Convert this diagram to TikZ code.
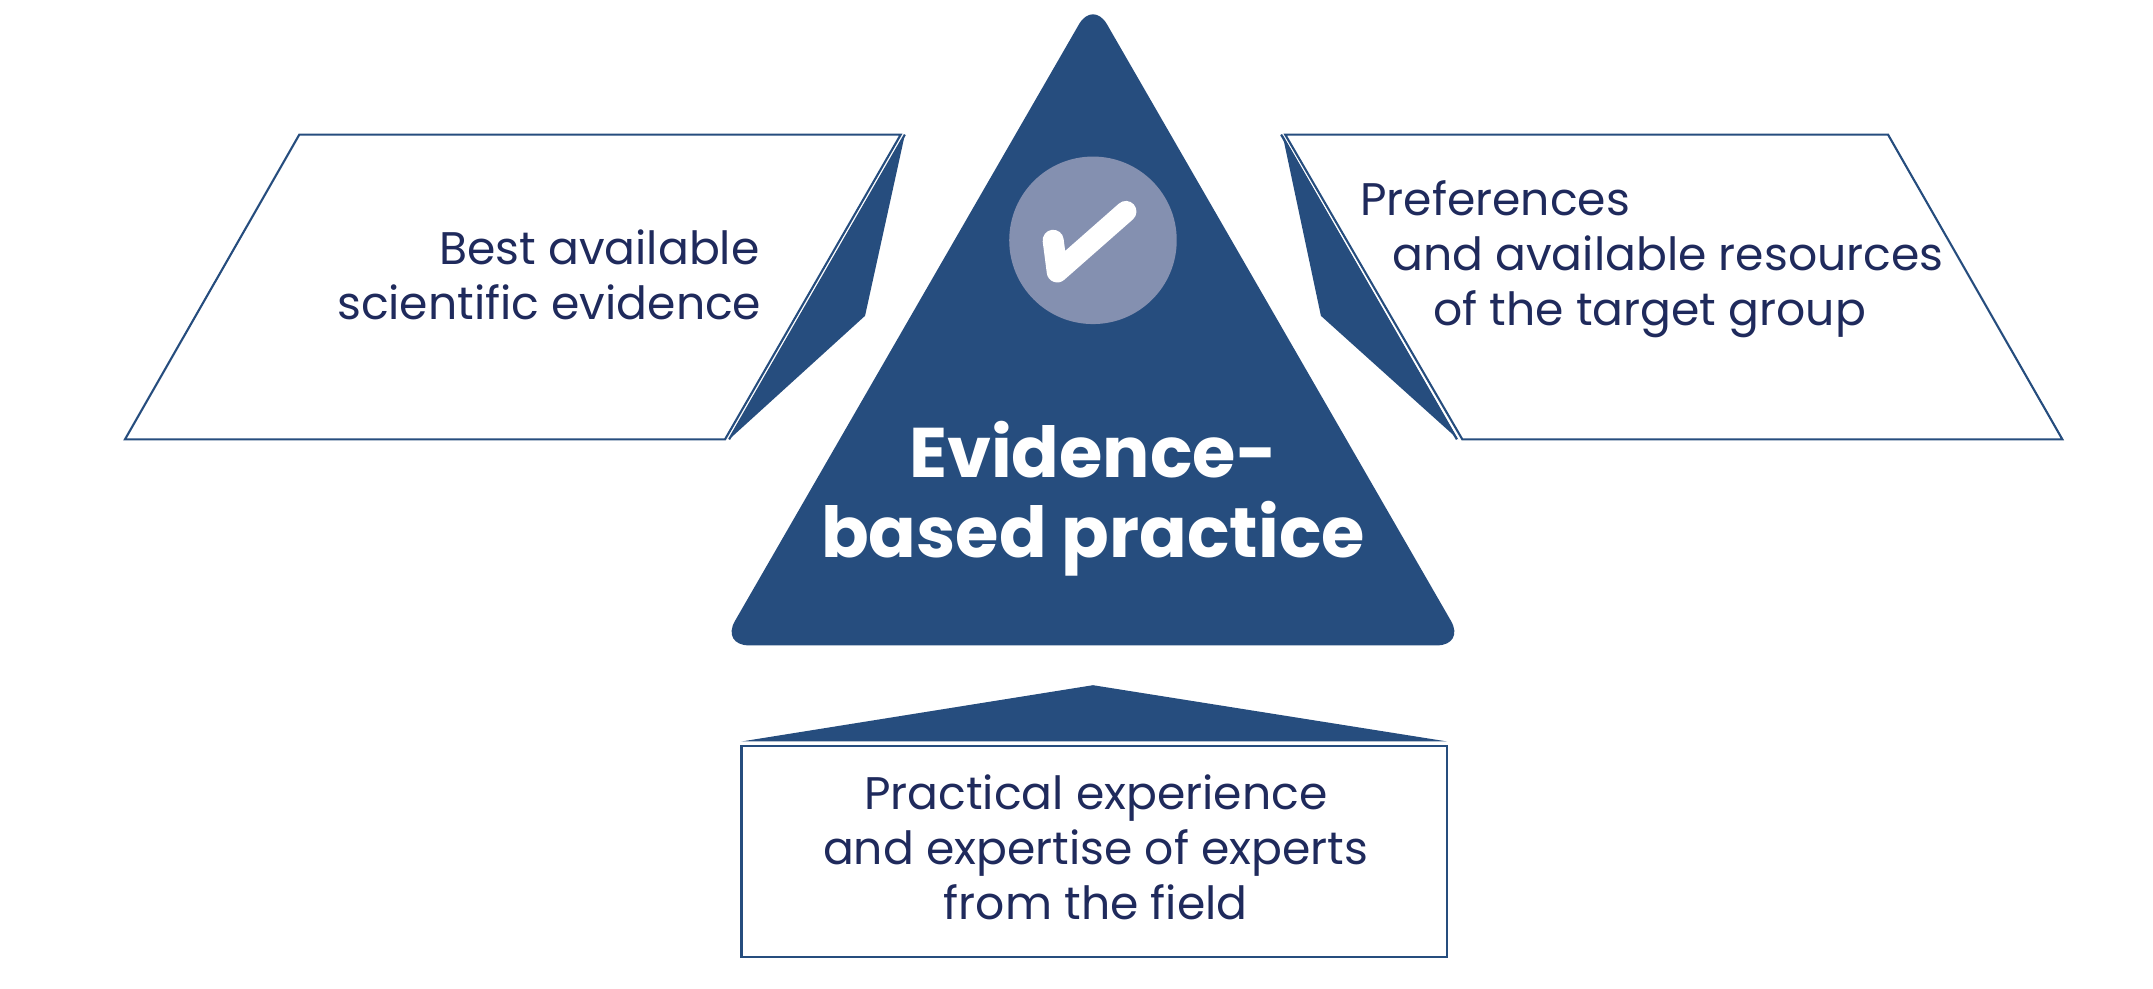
\documentclass[tikz,border=0pt]{standalone}
\usepackage{fontspec}
\setmainfont{Poppins}
\definecolor{ebpblue}{HTML}{264D7E}
\definecolor{ebpgrey}{HTML}{8490B0}
\definecolor{ebptext}{HTML}{1F2A5C}
\tikzset{
	frame/.style={draw=ebpblue, line width=0.6pt},
	wedge/.style={fill=ebpblue, draw=none},
	label/.style={text=ebptext, font=\fontsize{13}{15.6}\selectfont, align=center}
}
\begin{document}
\begin{tikzpicture}[x=0.01373cm, y=-0.01373cm]
	\useasboundingbox (0,0) rectangle (1568,720);
	% Dreieck in der Mitte
	\fill[ebpblue, rounded corners=8pt] (796,0) -- (1067,470) -- (525,470) -- cycle;
	\node[circle, fill=ebpgrey, minimum size=122*0.01373cm, inner sep=0] (check) at (796,175) {};
	\draw[white, line width=6pt, line cap=round, line join=round] (767,175) -- (770,198) -- (820,154);
	\node[text=white, font=\bfseries\fontsize{20}{22.7}\selectfont, align=center] (ebp) at (796,363) {Evidence-\\based practice};
	% links
	\draw[frame] (218,98) -- (656,98) -- (528,320) -- (91,320) -- cycle;
	\draw[frame] (659,98) -- (531,320);
	\fill[wedge] (659,98) -- (630,230) -- (531,320) -- cycle;
	\node[label] (left) at (400,200) {\hspace*{2.2em}Best available\\scientific evidence};
	% rechts
	\draw[frame] (936,98) -- (1375,98) -- (1502,320) -- (1065,320) -- cycle;
	\draw[frame] (933,98) -- (1061,320);
	\fill[wedge] (934,98) -- (962,230) -- (1062,320) -- cycle;
	\node[label, align=left] (right) at (1203,189) {Preferences\\\hspace*{0.7em}and available resources\\\hspace*{1.6em}of the target group};
	% unten
	\fill[wedge] (540,540) -- (796,499) -- (1054,540) -- cycle;
	\draw[frame] (540,543) rectangle (1054,697);
	\node[label] (bottom) at (798,617) {Practical experience\\and expertise of experts\\from the field};
\end{tikzpicture}
\end{document}
